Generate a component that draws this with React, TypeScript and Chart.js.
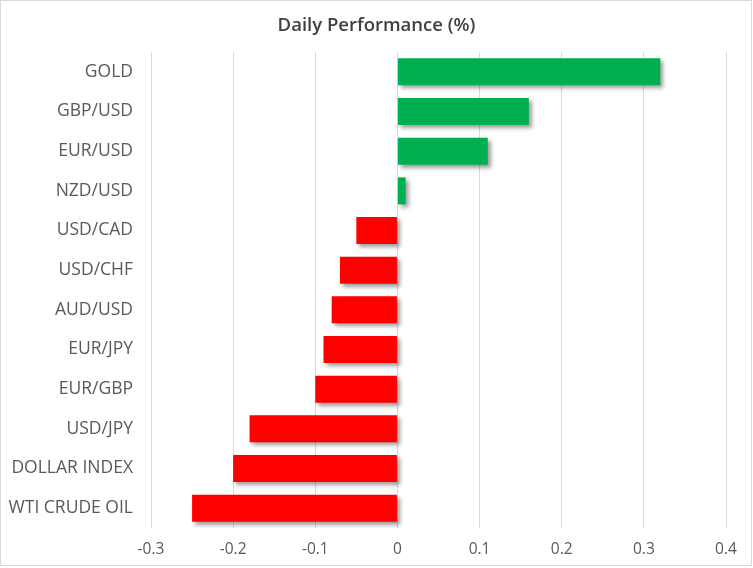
import React, { useEffect, useRef } from "react";
import { Chart, registerables } from "chart.js";

Chart.register(...registerables);

const categories = [
  "GOLD",
  "GBP/USD",
  "EUR/USD",
  "NZD/USD",
  "USD/CAD",
  "USD/CHF",
  "AUD/USD",
  "EUR/JPY",
  "EUR/GBP",
  "USD/JPY",
  "DOLLAR INDEX",
  "WTI CRUDE OIL",
];
const performance = [0.32, 0.16, 0.11, 0.01, -0.05, -0.07, -0.08, -0.09, -0.1, -0.18, -0.2, -0.25];
const chartTitle = "Daily Performance (%)";
const xMin = -0.3;
const xMax = 0.4;
const xStep = 0.1;

const GREEN = "#00B050";
const RED = "#FF0000";
const FONT = "'Open Sans', 'Noto Sans', sans-serif";

const shadowPlugin = {
  id: "barShadow",
  beforeDatasetsDraw(chart: any) {
    const ctx = chart.ctx;
    ctx.save();
    ctx.shadowColor = "rgba(0,0,0,0.38)";
    ctx.shadowBlur = 4;
    ctx.shadowOffsetX = 3;
    ctx.shadowOffsetY = 3;
  },
  afterDatasetsDraw(chart: any) {
    chart.ctx.restore();
  },
};

const titleAndBorderPlugin = {
  id: "titleBorder",
  afterDraw(chart: any) {
    const ctx = chart.ctx;
    ctx.save();
    ctx.fillStyle = "#404040";
    ctx.font = `600 18.5px ${FONT}`;
    ctx.textAlign = "center";
    ctx.textBaseline = "alphabetic";
    ctx.fillText(chartTitle, chart.width / 2, 31);
    ctx.strokeStyle = "#d9d9d9";
    ctx.lineWidth = 1;
    ctx.strokeRect(0.5, 0.5, 751, 565);
    ctx.restore();
  },
};

const bgPlugin = {
  id: "bg",
  beforeDraw(chart: any) {
    const ctx = chart.ctx;
    ctx.save();
    ctx.fillStyle = "#ffffff";
    ctx.fillRect(0, 0, chart.width, chart.height);
    ctx.restore();
  },
};

export default function App() {
  const ref = useRef<HTMLCanvasElement | null>(null);

  useEffect(() => {
    if (!ref.current) return;
    const chart = new Chart(ref.current, {
      type: "bar",
      data: {
        labels: categories,
        datasets: [
          {
            data: performance,
            backgroundColor: performance.map((v) => (v >= 0 ? GREEN : RED)),
            borderWidth: 0,
            categoryPercentage: 0.85,
            barPercentage: 0.8,
          },
        ],
      },
      options: {
        indexAxis: "y",
        responsive: false,
        animation: false,
        devicePixelRatio: 1,
        layout: { padding: { top: 52, right: 27, bottom: 0, left: 0 } },
        plugins: {
          legend: { display: false },
          tooltip: { enabled: false },
          title: { display: false },
        },
        scales: {
          x: {
            type: "linear",
            min: xMin,
            max: xMax,
            ticks: {
              stepSize: xStep,
              color: "#595959",
              font: { family: FONT, size: 15.5 },
              padding: 12,
              callback: (v: any) => String(Math.round(Number(v) * 10) / 10),
            },
            grid: { color: "#d9d9d9", drawTicks: false, lineWidth: 1 },
            border: { display: false },
            afterFit: (scale: any) => {
              scale.height = 40;
            },
          },
          y: {
            ticks: {
              color: "#595959",
              font: { family: FONT, size: 17.5 },
              padding: 18,
            },
            grid: { display: false, drawTicks: false },
            border: { display: false },
            afterFit: (scale: any) => {
              scale.width = 151;
            },
          },
        },
      },
      plugins: [bgPlugin, shadowPlugin, titleAndBorderPlugin],
    });
    return () => chart.destroy();
  }, []);

  return (
    <div style={{ position: "fixed", left: 0, top: 0, width: 753, height: 568, background: "#fff" }}>
      <canvas ref={ref} width={753} height={568} style={{ display: "block" }} />
    </div>
  );
}
